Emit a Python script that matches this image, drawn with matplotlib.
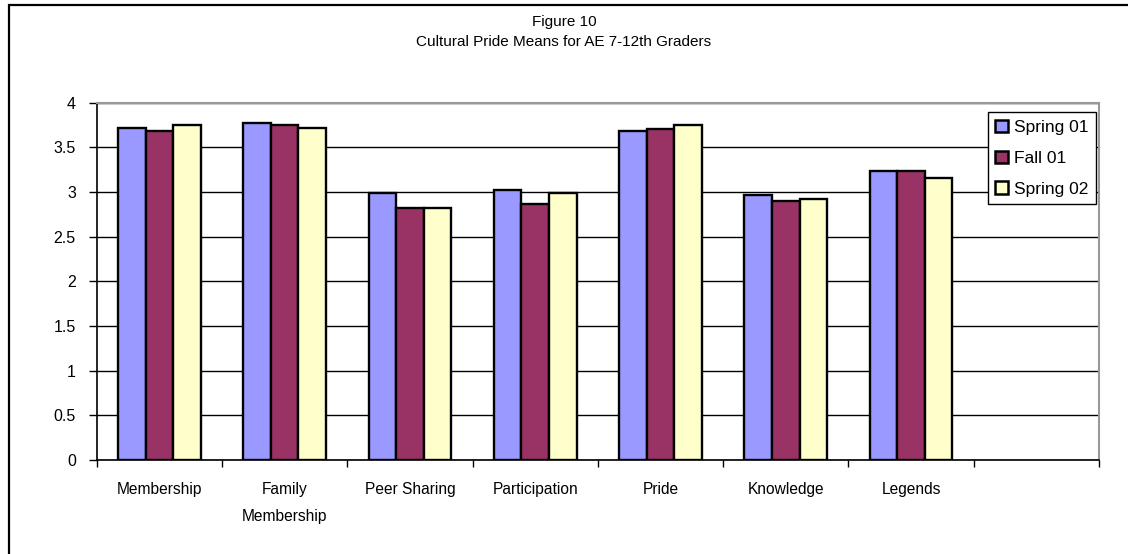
from matplotlib import pyplot as plt
from matplotlib import patches as patches
import numpy as np

categories = ["Membership", "Family\nMembership", "Peer Sharing", "Participation",
              "Pride", "Knowledge", "Legends", ""]
spring_01 = [3.72, 3.77, 2.99, 3.02, 3.68, 2.97, 3.24]
fall_01 = [3.68, 3.75, 2.82, 2.87, 3.70, 2.90, 3.24]
spring_02 = [3.75, 3.72, 2.82, 2.99, 3.75, 2.92, 3.16]
series = [("Spring 01", spring_01, "#9999ff"),
          ("Fall 01", fall_01, "#993366"),
          ("Spring 02", spring_02, "#ffffcc")]
yticks = [0, 0.5, 1, 1.5, 2, 2.5, 3, 3.5, 4]

plt.rcParams["font.family"] = ["Liberation Sans", "DejaVu Sans"]

W, H = 1128, 554
fig = plt.figure(figsize=(W / 100, H / 100), dpi=100)
ax = fig.add_axes([96.7 / W, 1 - 460 / H, (1099 - 96.7) / W, (460 - 102.7) / H])

# outer chart frame (cut off at right and bottom in the original)
fig.add_artist(patches.Rectangle((8.5 / W, -0.1), 1.2, 1.1 - 5.5 / H,
                                 transform=fig.transFigure, fill=False,
                                 edgecolor="black", linewidth=1.6))

width = 0.22
for i, (name, vals, color) in enumerate(series):
    x = np.arange(len(vals)) + 0.5 + (i - 1) * width
    ax.bar(x, vals, width=width, color=color, edgecolor="black",
           linewidth=1.7, label=name, zorder=3)

ax.set_xlim(0, len(categories))
ax.set_ylim(0, 4)
ax.set_yticks(yticks)
ax.set_yticklabels([f"{t:g}" for t in yticks], fontsize=11.5)
ax.yaxis.grid(True, color="black", linewidth=1.0, zorder=0)
ax.set_axisbelow(True)

ax.set_xticks(np.arange(len(categories) + 1))
ax.set_xticklabels([])
ax.set_xticks(np.arange(len(categories)) + 0.5, minor=True)
ax.set_xticklabels(categories, minor=True, fontsize=11.2, linespacing=2.0, va="top")
ax.tick_params(axis="x", which="major", direction="out", length=5, width=1)
ax.tick_params(axis="x", which="minor", length=0, pad=16)
ax.tick_params(axis="y", direction="out", length=6, width=1, pad=9)

for side in ("top", "right"):
    ax.spines[side].set_color("#999999")
    ax.spines[side].set_linewidth(1.5)
for side in ("left", "bottom"):
    ax.spines[side].set_color("black")
    ax.spines[side].set_linewidth(1.2)

fig.text(0.5, 1 - 32 / H, "Figure 10\nCultural Pride Means for AE 7-12th Graders",
         ha="center", va="center", fontsize=11, linespacing=1.55)

leg = ax.legend(loc="upper right", bbox_to_anchor=(1096 / W, 1 - 112 / H),
                bbox_transform=fig.transFigure, fancybox=False, framealpha=1,
                edgecolor="black", fontsize=12.5, handlelength=0.7,
                handleheight=0.7, handletextpad=0.35, borderpad=0.45,
                labelspacing=0.9, borderaxespad=0)
leg.get_frame().set_linewidth(1.0)
for h in leg.legend_handles:
    h.set_linewidth(1.8)

fig.savefig("out.png", dpi=100)
